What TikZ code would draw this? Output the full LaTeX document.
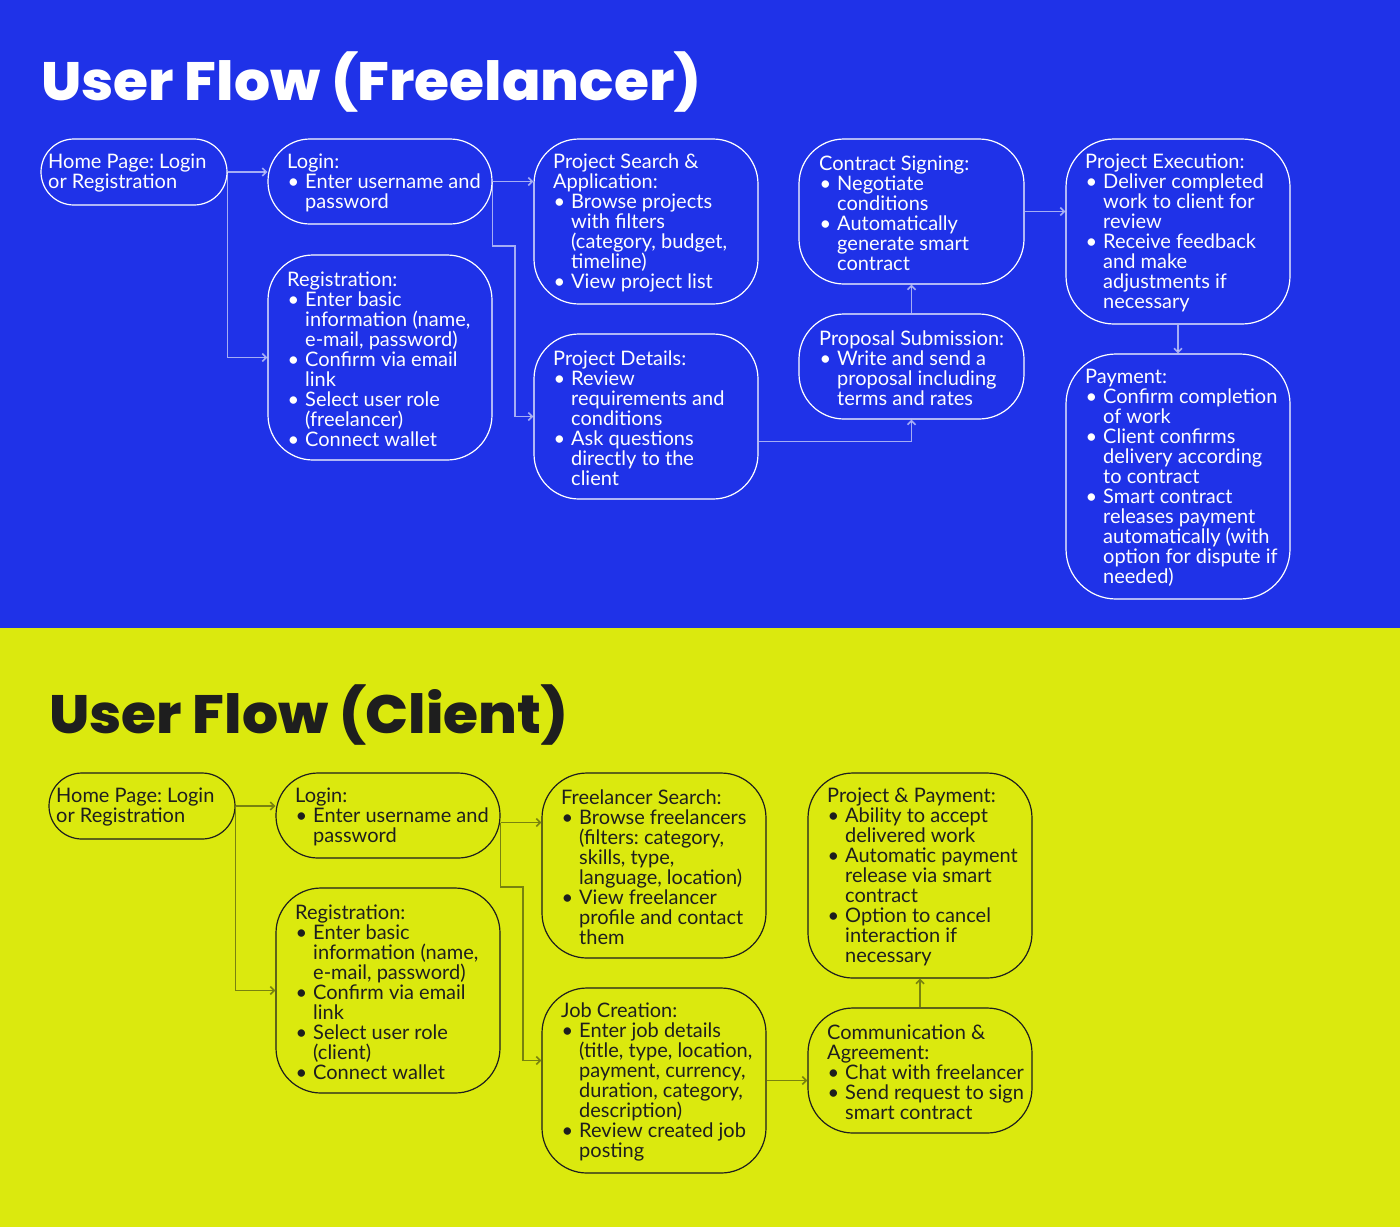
\documentclass[tikz,border=0pt]{standalone}
\usepackage{fontspec}
\setmainfont{Lato}
\newfontfamily\titlefont{Poppins}[FakeStretch=1.05, BoldFont={Poppins ExtraBold}]
\usetikzlibrary{arrows.meta}
\definecolor{bgblue}{RGB}{31,50,232}
\definecolor{bgyel}{RGB}{219,233,14}
\definecolor{ink}{RGB}{30,30,30}
\definecolor{olivec}{RGB}{120,130,14}
\newcommand\bul{\makebox[18pt][l]{\hspace{0.5pt}\textbullet}}
\newcommand\ind{\hspace*{18pt}}
% name, x1, y1, x2, y2, radius, pad, kind, text
\newcommand\mkbox[9]{%
  \node[#8box, minimum width={(#4-#2)*1pt}, minimum height={(#5-#3)*1pt}, rounded corners=#6pt] (#1) at ({(#2+#4)/2},{(#3+#5)/2}) {};
  \node[#8txt, anchor=west] (#1t) at ({#2+#7},{(#3+#5)/2+1.5}) {#9};
}
\tikzset{
  bluebox/.style={draw=white, line width=1.2pt, inner sep=0pt},
  yelbox/.style={draw=ink, line width=1.2pt, inner sep=0pt},
  bluetxt/.style={text=white, align=left, inner sep=0pt, font=\frenchspacing\fontsize{20}{20}\selectfont},
  yeltxt/.style={text=ink, align=left, inner sep=0pt, font=\frenchspacing\fontsize{20}{20}\selectfont},
  blueconn/.style={draw=white, draw opacity=0.6, line width=1.6pt, -{Straight Barb[length=4pt,width=8pt]}},
  yelconn/.style={draw=olivec, line width=1.6pt, -{Straight Barb[length=4pt,width=8pt]}},
  ttl/.style={anchor=base west, inner sep=0pt, font=\titlefont\bfseries\fontsize{54}{60}\selectfont}
}
\begin{document}
\begin{tikzpicture}[x=1pt, y=-1pt]
\useasboundingbox (0,0) rectangle (1400,1227);
\fill[bgblue] (0,0) rectangle (1400,628);
\fill[bgyel] (0,628) rectangle (1400,1227);

% ---------------- Freelancer ----------------
\node[ttl, text=white] (t1) at (41,100) {User Flow (Freelancer)};

\mkbox{fhome}{41}{139}{227}{205}{33}{7}{blue}{Home Page: Login\\or Registration}
\mkbox{flogin}{268}{139}{492}{224}{42}{19}{blue}{Login:\\\bul Enter username and\\\ind password}
\mkbox{freg}{268}{255}{492}{460}{45}{19}{blue}{Registration:\\\bul Enter basic\\\ind information (name,\\\ind e-mail, password)\\\bul Confirm via email\\\ind link\\\bul Select user role\\\ind (freelancer)\\\bul Connect wallet}
\mkbox{fsearch}{534}{139}{758}{304}{45}{19}{blue}{Project Search \&\\Application:\\\bul Browse projects\\\ind with filters\\\ind (category, budget,\\\ind timeline)\\\bul View project list}
\mkbox{fdetails}{534}{334}{758}{499}{45}{19}{blue}{Project Details:\\\bul Review\\\ind requirements and\\\ind conditions\\\bul Ask questions\\\ind directly to the\\\ind client}
\mkbox{fcontract}{799}{139}{1024}{284}{45}{20}{blue}{Contract Signing:\\\bul Negotiate\\\ind conditions\\\bul Automatically\\\ind generate smart\\\ind contract}
\mkbox{fproposal}{799}{314}{1024}{419}{45}{20}{blue}{Proposal Submission:\\\bul Write and send a\\\ind proposal including\\\ind terms and rates}
\mkbox{fexec}{1066}{139}{1290}{324}{48}{19}{blue}{Project Execution:\\\bul Deliver completed\\\ind work to client for\\\ind review\\\bul Receive feedback\\\ind and make\\\ind adjustments if\\\ind necessary}
\mkbox{fpay}{1066}{354}{1290}{599}{50}{19}{blue}{Payment:\\\bul Confirm completion\\\ind of work\\\bul Client confirms\\\ind delivery according\\\ind to contract\\\bul Smart contract\\\ind releases payment\\\ind automatically (with\\\ind option for dispute if\\\ind needed)}

\coordinate (fc1) at (515,246);
\coordinate (fd1) at ([yshift=-25pt]fdetails.east);
\draw[blueconn] (fhome.east) -- (flogin.west |- fhome.east);
\draw[blueconn] (fhome.east) |- (freg.west);
\draw[blueconn] (flogin.east) -- (fsearch.west |- flogin.east);
\draw[blueconn] (flogin.east) -- (flogin.east |- fc1) -- (fc1) |- (fdetails.west);
\draw[blueconn] (fd1) -| (fproposal.south);
\draw[blueconn] (fproposal.north) -- (fcontract.south);
\draw[blueconn] (fcontract.east) -- (fexec.west |- fcontract.east);
\draw[blueconn] (fexec.south) -- (fpay.north);

% ---------------- Client ----------------
\node[ttl, text=ink] (t2) at (49,733) {User Flow (Client)};

\mkbox{chome}{49}{773}{235}{839}{33}{7}{yel}{Home Page: Login\\or Registration}
\mkbox{clogin}{276}{773}{500}{858}{42}{19}{yel}{Login:\\\bul Enter username and\\\ind password}
\mkbox{creg}{276}{888}{500}{1093}{45}{19}{yel}{Registration:\\\bul Enter basic\\\ind information (name,\\\ind e-mail, password)\\\bul Confirm via email\\\ind link\\\bul Select user role\\\ind (client)\\\bul Connect wallet}
\mkbox{cfs}{542}{773}{766}{958}{45}{19}{yel}{Freelancer Search:\\\bul Browse freelancers\\\ind (filters: category,\\\ind skills, type,\\\ind language, location)\\\bul View freelancer\\\ind profile and contact\\\ind them}
\mkbox{cjob}{542}{988}{766}{1173}{45}{19}{yel}{Job Creation:\\\bul Enter job details\\\ind (title, type, location,\\\ind payment, currency,\\\ind duration, category,\\\ind description)\\\bul Review created job\\\ind posting}
\mkbox{cpp}{808}{773}{1032}{978}{45}{19}{yel}{Project \& Payment:\\\bul Ability to accept\\\ind delivered work\\\bul Automatic payment\\\ind release via smart\\\ind contract\\\bul Option to cancel\\\ind interaction if\\\ind necessary}
\mkbox{ccomm}{808}{1008}{1032}{1133}{45}{19}{yel}{Communication \&\\Agreement:\\\bul Chat with freelancer\\\bul Send request to sign\\\ind smart contract}

\coordinate (cc1) at (523,887);
\coordinate (cl1) at ([yshift=-7pt]clogin.east);
\coordinate (cj1) at ([yshift=20pt]cjob.west);
\draw[yelconn] (chome.east) -- (clogin.west |- chome.east);
\draw[yelconn] (chome.east) |- (creg.west);
\draw[yelconn] (cl1) -- (cfs.west |- cl1);
\draw[yelconn] (cl1) -- (cl1 |- cc1) -- (cc1) |- (cj1);
\draw[yelconn] (cjob.east) -- (ccomm.west |- cjob.east);
\draw[yelconn] (ccomm.north) -- (cpp.south);
\end{tikzpicture}
\end{document}
